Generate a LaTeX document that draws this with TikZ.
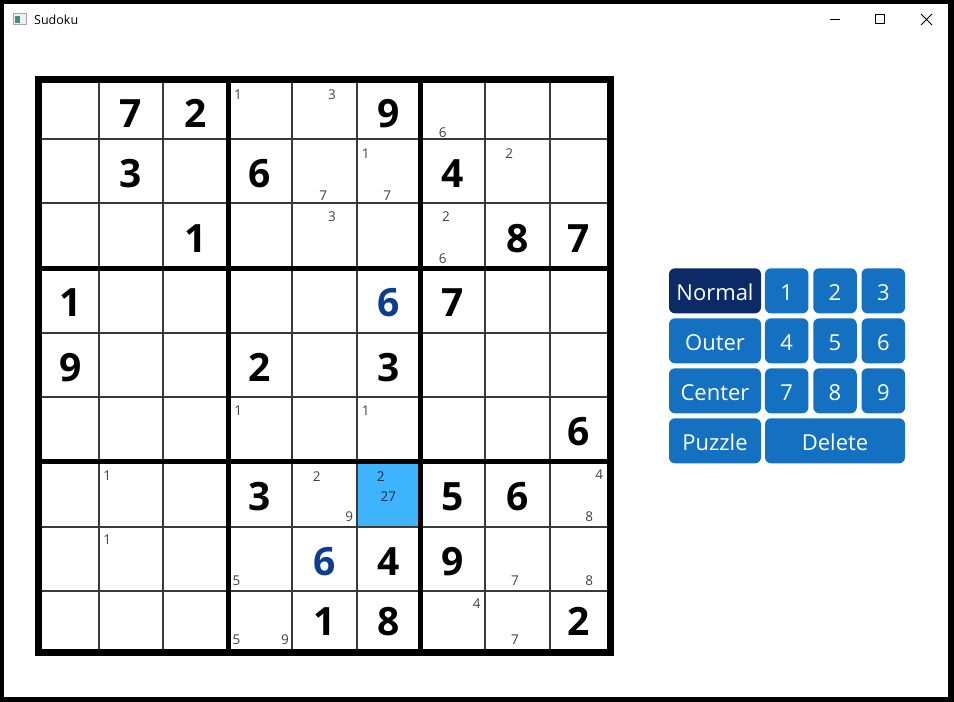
\documentclass[tikz,border=0pt]{standalone}
\usepackage{fontspec}
\setmainfont{Open Sans}
\definecolor{btnblue}{HTML}{1470C0}
\definecolor{btnnavy}{HTML}{0B2A66}
\definecolor{selblue}{HTML}{3EB4FF}
\definecolor{userblue}{HTML}{0B3D91}
\definecolor{gridgray}{HTML}{3A3A3A}
\definecolor{icongreen}{HTML}{3F8C80}

\begin{document}
\begin{tikzpicture}[x=1pt,y=-1pt]
	\tikzstyle{given}=[inner sep=0pt,font=\fontsize{39}{39}\selectfont\bfseries]
	\tikzstyle{entered}=[given,text=userblue]
	\tikzstyle{pencil}=[inner sep=0pt,text=black,text opacity=0.75,font=\fontsize{13.5}{13.5}\selectfont]
	\tikzstyle{button}=[fill=btnblue,rounded corners=6pt,minimum height=45pt,inner sep=0pt,text=white,text height=18.5pt,text depth=0pt,font=\fontsize{22}{22}\selectfont]
	\tikzstyle{keybutton}=[button,minimum width=43.5pt]
	\tikzstyle{modebutton}=[button,minimum width=92pt]
	\tikzstyle{cellline}=[draw=gridgray,line width=2pt]
	\tikzstyle{boxline}=[draw=black,line width=5pt]
	\useasboundingbox (0,0) rectangle (954,702);
	% window frame and title bar
	\fill[black] (0,0) rectangle (954,702);
	\fill[white] (4,4) rectangle (948,697);
	\filldraw[draw=gray!70,fill=gray!12] (13.5,13.5) rectangle (26.5,24.5);
	\fill[icongreen] (15,15.5) rectangle (20,23);
	\node[anchor=base west,inner sep=0pt,font=\fontsize{12.5}{12.5}\selectfont](title) at (34,24) {Sudoku};
	\draw[line width=1pt] (830,19.5) -- (840,19.5);
	\draw[line width=1pt] (875.5,14.5) rectangle (884.5,23.5);
	\draw[line width=1pt] (921,14) -- (932,25) (921,25) -- (932,14);
	% grid
	\fill[selblue] (356.7,461.7) rectangle (420.8,526.7);
	\foreach \x in {98.7,163.3,292,356.7,485,550}
		\draw[cellline] (\x,79.5) -- (\x,652);
	\foreach \y in {139.3,203.3,332.7,397.3,526.7,590.7}
		\draw[cellline] (38.5,\y) -- (610,\y);
	\foreach \x in {228,420.8}
		\draw[boxline] (\x,79.5) -- (\x,652);
	\foreach \y in {268,461.7}
		\draw[boxline] (38.5,\y) -- (610,\y);
	\draw[line width=7pt] (38.5,79.5) rectangle (610,652);
	% given and entered digits
	\node[given](g12) at (131,113.7) {7};
	\node[given](g13) at (195.7,113.7) {2};
	\node[given](g16) at (388.7,113.7) {9};
	\node[given](g22) at (131,173.8) {3};
	\node[given](g24) at (260,173.8) {6};
	\node[given](g27) at (452.9,173.8) {4};
	\node[given](g33) at (195.7,238.2) {1};
	\node[given](g38) at (517.5,238.2) {8};
	\node[given](g39) at (578.5,238.2) {7};
	\node[given](g41) at (70.3,302.8) {1};
	\node[entered](g46) at (388.7,302.8) {6};
	\node[given](g47) at (452.9,302.8) {7};
	\node[given](g51) at (70.3,367.5) {9};
	\node[given](g54) at (260,367.5) {2};
	\node[given](g56) at (388.7,367.5) {3};
	\node[given](g69) at (578.5,432) {6};
	\node[given](g74) at (260,496.7) {3};
	\node[given](g77) at (452.9,496.7) {5};
	\node[given](g78) at (517.5,496.7) {6};
	\node[entered](g85) at (324.3,561.2) {6};
	\node[given](g86) at (388.7,561.2) {4};
	\node[given](g87) at (452.9,561.2) {9};
	\node[given](g95) at (324.3,621.8) {1};
	\node[given](g96) at (388.7,621.8) {8};
	\node[given](g99) at (578.5,621.8) {2};
	% pencil marks
	\node[pencil](m14a) at (238,94.7) {1};
	\node[pencil](m15a) at (332,95) {3};
	\node[pencil](m17a) at (442.7,132.7) {6};
	\node[pencil](m25a) at (323.3,196) {7};
	\node[pencil](m26a) at (365.7,153.3) {1};
	\node[pencil](m26b) at (387.3,196) {7};
	\node[pencil](m28a) at (509.3,153.3) {2};
	\node[pencil](m35a) at (332,216.7) {3};
	\node[pencil](m37a) at (446,216.7) {2};
	\node[pencil](m37b) at (442.7,258.3) {6};
	\node[pencil](m64a) at (238.3,410.7) {1};
	\node[pencil](m66a) at (365.7,410.7) {1};
	\node[pencil](m72a) at (107.3,476) {1};
	\node[pencil](m75a) at (316.7,476.7) {2};
	\node[pencil](m75b) at (349.3,516.7) {9};
	\node[pencil](m76a) at (380.7,476.7) {2};
	\node[pencil](m76b) at (388.3,496.7) {27};
	\node[pencil](m79a) at (599.3,475) {4};
	\node[pencil](m79b) at (589.3,516.7) {8};
	\node[pencil](m82a) at (107.3,539.3) {1};
	\node[pencil](m84a) at (236.5,581) {5};
	\node[pencil](m88a) at (515,580.7) {7};
	\node[pencil](m89a) at (589.3,580.7) {8};
	\node[pencil](m94a) at (236.5,640) {5};
	\node[pencil](m94b) at (285,640) {9};
	\node[pencil](m97a) at (476.7,603.3) {4};
	\node[pencil](m98a) at (515,640) {7};
	% buttons
	\node[modebutton,fill=btnnavy](normal) at (715,290.8) {Normal};
	\node[modebutton](outer) at (715,340.8) {Outer};
	\node[modebutton](center) at (715,390.8) {Center};
	\node[modebutton](puzzle) at (715,440.8) {Puzzle};
	\node[keybutton](k1) at (786.7,290.8) {1};
	\node[keybutton](k2) at (835,290.8) {2};
	\node[keybutton](k3) at (883.3,290.8) {3};
	\node[keybutton](k4) at (786.7,340.8) {4};
	\node[keybutton](k5) at (835,340.8) {5};
	\node[keybutton](k6) at (883.3,340.8) {6};
	\node[keybutton](k7) at (786.7,390.8) {7};
	\node[keybutton](k8) at (835,390.8) {8};
	\node[keybutton](k9) at (883.3,390.8) {9};
	\node[button,minimum width=140pt](delete) at (835,440.8) {Delete};
\end{tikzpicture}
\end{document}
